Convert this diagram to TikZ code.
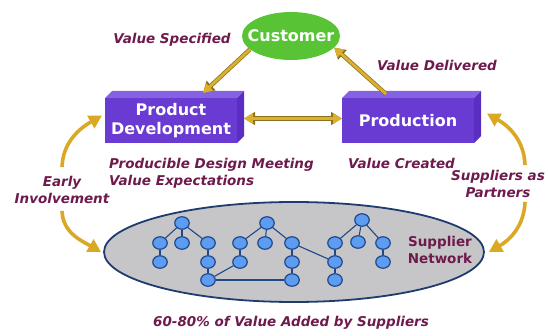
\documentclass[tikz,border=0pt]{standalone}
\usepackage{fontspec}
\setmainfont{DejaVu Sans}
\usetikzlibrary{arrows.meta,shapes.geometric,positioning}

\definecolor{lblred}{HTML}{6E1A4C}
\definecolor{boxfront}{HTML}{6A3BD2}
\definecolor{boxtop}{HTML}{8462E2}
\definecolor{boxside}{HTML}{5B2EC2}
\definecolor{custgreen}{HTML}{58C435}
\definecolor{linkgold}{HTML}{DBB02C}
\definecolor{linkdark}{HTML}{8A7220}
\definecolor{arcgold}{HTML}{DBA823}
\definecolor{netgray}{HTML}{C6C6C9}
\definecolor{netblue}{HTML}{1F3C6E}
\definecolor{supfill}{HTML}{5C9DF2}
\definecolor{supedge}{HTML}{21478A}

\tikzset{
  lbl/.style={font=\fontsize{13.5}{17}\selectfont\bfseries\itshape, text=lblred, align=center, inner sep=1pt},
  boxlbl/.style={font=\fontsize{16}{19}\selectfont\bfseries, text=white, align=center},
  pbox/.style={rectangle, fill=boxfront, minimum width=132pt, minimum height=45pt, outer sep=0pt, boxlbl},
  sup/.style={ellipse, draw=supedge, line width=1.2pt, fill=supfill, minimum width=14.5pt, minimum height=12.5pt, inner sep=0pt},
  supline/.style={draw=supedge, line width=1.1pt},
  goldlink/.style={draw=linkgold, line width=2.8pt, arrows={-Triangle[length=9pt,width=10pt]},
    preaction={draw=linkdark, line width=4.3pt, arrows={-Triangle[length=11pt,width=12.5pt]}}},
  goldlinkboth/.style={draw=linkgold, line width=2.8pt, arrows={Triangle[length=9pt,width=10pt]-Triangle[length=9pt,width=10pt]},
    preaction={draw=linkdark, line width=4.3pt, arrows={Triangle[length=11pt,width=12.5pt]-Triangle[length=11pt,width=12.5pt]}}},
  goldarc/.style={draw=arcgold, line width=3.6pt, -{Triangle[length=13pt,width=14pt]}},
}

\begin{document}
\begin{tikzpicture}[x=1pt,y=1pt]
  \useasboundingbox (0,0) rectangle (548,335);

  % customer and the two boxes
  \node[ellipse, fill=custgreen, minimum width=98pt, minimum height=48pt, inner sep=0pt,
        label={[boxlbl]center:Customer}] (cust) at (291,299) {};
  \node[pbox] (pd) at (171,214.5) {Product\\Development};
  \node[pbox] (prod) at (408,214.5) {Production};

  % 3d faces of the boxes
  \foreach \b in {pd,prod} {
    \fill[boxtop] (\b.north west) -- ++(7,7) -- ([shift={(7pt,7pt)}]\b.north east) -- (\b.north east) -- cycle;
    \fill[boxside] (\b.north east) -- ++(7,7) -- ([shift={(7pt,7pt)}]\b.south east) -- (\b.south east) -- cycle;
  }

  \draw[goldlink] (cust.198) -- ([shift={(32pt,5pt)}]pd.north);
  \draw[goldlink] ([shift={(-22pt,4pt)}]prod.north) -- (cust.-15);
  \draw[goldlinkboth] ([shift={(7pt,2pt)}]pd.east) -- ([yshift=2pt]prod.west);

  % labels
  \node[lbl, anchor=east] (vspec) at ([shift={(-10pt,-4pt)}]cust.west) {Value Specified};
  \node[lbl, anchor=west] (vdeliv) at (376,270) {Value Delivered};
  \node[lbl, anchor=north west, align=left] (pdnote) at ([shift={(3pt,-14pt)}]pd.south west)
    {Producible Design Meeting\\Value Expectations};
  \node[lbl, anchor=north west, align=left] (prodnote) at ([shift={(5pt,-14pt)}]prod.south west)
    {Value Created};
  \node[lbl] (early) at (62,145) {Early\\Involvement};
  \node[lbl] (partners) at (498,151) {Suppliers as\\Partners};
  \node[lbl] (valadd) at (291,12) {60-80\% of Value Added by Suppliers};

  % supplier network
  \node[ellipse, draw=netblue, line width=1.8pt, fill=netgray, minimum width=380pt,
        minimum height=100pt, inner sep=0pt] (supnet) at (294,83) {};
  \node[font=\fontsize{13.5}{17}\selectfont\bfseries, text=lblred, align=center] (supnetlbl)
    at (440,85) {Supplier\\Network};

  \foreach \n/\x/\y in {t1/182/112, a1/160/92, b1/182/92, c1/208/92, d1/160/73, e1/208/73, f1/208/55,
                        t2/267/112, a2/240/92, b2/265/92, c2/292/92, d2/240/73, e2/292/73, f2/292/55,
                        t3/362/115, a3/335/92, b3/358/93, c3/383/92, d3/335/73, e3/383/73, f3/335/55}
    \node[sup] (\n) at (\x,\y) {};

  \foreach \a/\b in {t1/a1, t1/b1, t1/c1, a1/d1, c1/e1, e1/f1,
                     t2/a2, t2/b2, t2/c2, a2/d2, c2/e2, e2/f2,
                     t3/a3, t3/b3, t3/c3, a3/d3, d3/f3, c3/e3,
                     f1/d2, f1/f2, c2/d3}
    \draw[supline] (\a) -- (\b);

  % curved arrows on both sides
  \draw[goldarc] ([yshift=8pt]early.north) to[out=88,in=210] ([shift={(-3pt,5pt)}]pd.west);
  \draw[goldarc] ([yshift=-6pt]early.south) to[out=-88,in=150] ([xshift=-2pt]supnet.west);
  \draw[goldarc] ([shift={(27pt,4pt)}]partners.north) to[out=92,in=-30] ([shift={(13pt,7pt)}]prod.east);
  \draw[goldarc] ([shift={(27pt,-3pt)}]partners.south) to[out=-92,in=30] ([xshift=4pt]supnet.east);
\end{tikzpicture}
\end{document}
